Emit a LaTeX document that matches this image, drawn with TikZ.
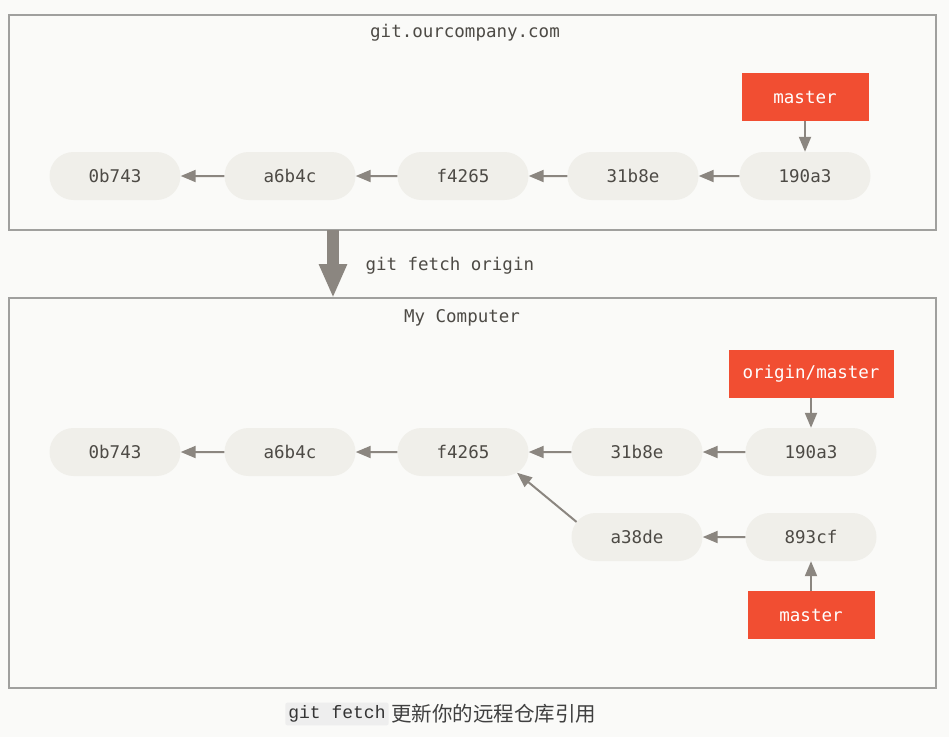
\documentclass[tikz,border=0pt]{standalone}
\usepackage{fontspec}
\setmonofont{DejaVu Sans Mono}
\newfontfamily\cjk{Noto Sans CJK SC}
\newfontfamily\capmono{Liberation Mono}
\usetikzlibrary{shapes.misc,arrows.meta}
\definecolor{pagebg}{RGB}{250,250,248}
\definecolor{framegray}{RGB}{160,160,158}
\definecolor{commitfill}{RGB}{240,239,234}
\definecolor{committext}{RGB}{77,74,69}
\definecolor{gitred}{RGB}{241,78,50}
\definecolor{arrowgray}{RGB}{139,134,128}
\definecolor{codebg}{RGB}{238,238,238}

\begin{document}
\begin{tikzpicture}[x=1pt,y=-1pt,font=\ttfamily\fontsize{17.5}{20}\selectfont,
  commit/.style={rounded rectangle,fill=commitfill,text=committext,minimum width=131pt,minimum height=48pt,inner sep=0pt},
  branch/.style={rectangle,fill=gitred,text=white,minimum height=48pt,inner sep=0pt},
  parent/.style={draw=arrowgray,line width=2pt,-{Triangle[length=15pt,width=12pt]}},
  repo/.style={draw=framegray,line width=1.5pt,fill=pagebg}]
\useasboundingbox (0,0) rectangle (949,737);
\fill[pagebg] (0,0) rectangle (949,737);

% server side
\draw[repo] (9,15) rectangle (936,230);
\node[text=committext] (server) at (465,33) {git.ourcompany.com};
\foreach \id/\x in {0b743/115,a6b4c/290,f4265/463,31b8e/633,190a3/805}
  \node[commit] (s\id) at (\x,176) {\id};
\foreach \a/\b in {190a3/31b8e,31b8e/f4265,f4265/a6b4c,a6b4c/0b743}
  \draw[parent] (s\a) -- (s\b);
\node[branch,minimum width=127pt] (smaster) at (805,97) {master};
\draw[parent] (smaster) -- (s190a3);

% fetch
\coordinate (fetchtop) at (333,230);
\coordinate (fetchtip) at (333,298);
\draw[arrowgray,line width=12pt,-{Triangle[length=34pt,width=26pt]}] (fetchtop) -- (fetchtip);
\node[anchor=west,text=committext] (fetchlabel) at (362,266) {git fetch origin};

% local side
\draw[repo] (9,298) rectangle (936,688);
\node[text=committext] (local) at (462,318) {My Computer};
\foreach \id/\x/\y in {0b743/115/452,a6b4c/290/452,f4265/463/452,31b8e/637/452,190a3/811/452,a38de/637/537,893cf/811/537}
  \node[commit] (l\id) at (\x,\y) {\id};
\foreach \a/\b in {190a3/31b8e,31b8e/f4265,f4265/a6b4c,a6b4c/0b743,893cf/a38de}
  \draw[parent] (l\a) -- (l\b);
\draw[parent] (la38de.166) -- (lf4265.-21);
\node[branch,minimum width=165pt] (origin) at (811,374) {origin/master};
\draw[parent] (origin) -- (l190a3);
\node[branch,minimum width=127pt] (lmaster) at (811,615) {master};
\draw[parent] (lmaster) -- (l893cf);

% caption
\node[fill=codebg,rounded corners=2pt,inner sep=3pt,text=black!80,font=\capmono\fontsize{18}{20}\selectfont] (capcode) at (337,714) {git fetch};
\node[anchor=west,inner sep=2pt,text=black!75,font=\cjk\fontsize{20.5}{22}\selectfont] (captext) at (capcode.east) {更新你的远程仓库引用};
\end{tikzpicture}
\end{document}
